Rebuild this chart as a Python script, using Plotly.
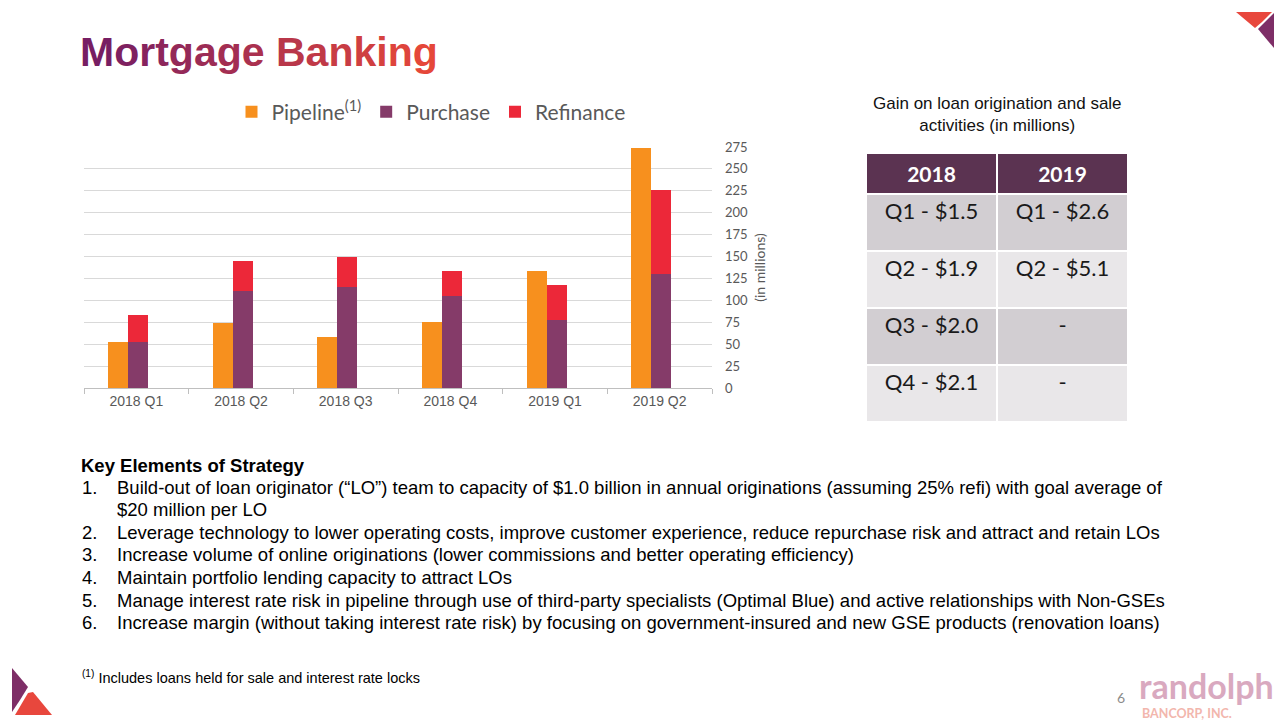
import plotly.graph_objects as go

# ---------------- data ----------------
quarters = ["2018 Q1", "2018 Q2", "2018 Q3", "2018 Q4", "2019 Q1", "2019 Q2"]
pipeline = [52, 74, 58, 75, 134, 274]
purchase = [52, 111, 115, 105, 78, 130]
refinance = [31, 34, 35, 28, 39, 96]
y_ticks = list(range(0, 276, 25))

table_header = ["2018", "2019"]
table_2018 = ["Q1 - $1.5", "Q2 - $1.9", "Q3 - $2.0", "Q4 - $2.1"]
table_2019 = ["Q1 - $2.6", "Q2 - $5.1", "-", "-"]

strategy_title = "Key Elements of Strategy"
strategy_items = [
    ["Build-out of loan originator (\u201cLO\u201d) team to capacity of $1.0 billion in annual originations (assuming 25% refi) with goal average of",
     "$20 million per LO"],
    ["Leverage technology to lower operating costs, improve customer experience, reduce repurchase risk and attract and retain LOs"],
    ["Increase volume of online originations (lower commissions and better operating efficiency)"],
    ["Maintain portfolio lending capacity to attract LOs"],
    ["Manage interest rate risk in pipeline through use of third-party specialists (Optimal Blue) and active relationships with Non-GSEs"],
    ["Increase margin (without taking interest rate risk) by focusing on government-insured and new GSE products (renovation loans)"],
]

W, H = 1280, 720
ORANGE = "#F7901E"
PURPLE = "#853B69"
RED = "#EC2839"
GRAY = "#595959"
CAL = "Lato, 'Open Sans', sans-serif"
ARIAL = "Arial, 'Liberation Sans', sans-serif"
BODY = 18.5


def px(x):
    return x / W


def py(y):
    return 1 - y / H


fig = go.Figure()

fig.add_trace(go.Bar(name="Pipeline<sup>(1)</sup>", x=quarters, y=pipeline,
                     marker=dict(color=ORANGE, line=dict(width=0)),
                     width=0.19, offset=-0.27))
fig.add_trace(go.Bar(name="Purchase", x=quarters, y=purchase,
                     marker=dict(color=PURPLE, line=dict(width=0)),
                     width=0.19, offset=-0.08))
fig.add_trace(go.Bar(name="Refinance", x=quarters, y=refinance, base=purchase,
                     marker=dict(color=RED, line=dict(width=0)),
                     width=0.19, offset=-0.08))

# table
fig.add_trace(go.Table(
    domain=dict(x=[px(866), px(1128)], y=[py(421), py(153)]),
    columnwidth=[1, 1],
    header=dict(values=[f"<b>{h}</b>" for h in table_header],
                fill_color="#5B3351", line=dict(color="white", width=2),
                font=dict(family=CAL, size=21, color="white"),
                align="center", height=36),
    cells=dict(values=[table_2018, table_2019],
               fill_color=[["#D2CED2", "#E9E7E9", "#D2CED2", "#E9E7E9"]] * 2,
               line=dict(color="white", width=2),
               font=dict(family=CAL, size=22, color="#1A1A1A"),
               align="center", height=57),
))

annotations = []

# gradient title
title = "Mortgage Banking"
c0 = (0x77, 0x1E, 0x63)
c1 = (0xE5, 0x47, 0x39)
spans = []
n = len(title)
for i, ch in enumerate(title):
    t = i / (n - 1)
    col = tuple(round(a + (b - a) * t) for a, b in zip(c0, c1))
    spans.append(f"<span style='color:rgb{col}'>{ch}</span>")
annotations.append(dict(text="<b>" + "".join(spans) + "</b>", x=px(78), y=py(52),
                        xref="paper", yref="paper", xanchor="left", yanchor="middle",
                        showarrow=False, font=dict(family=ARIAL, size=41)))

# right header
annotations.append(dict(text="Gain on loan origination and sale<br>activities (in millions)",
                        x=px(997), y=py(115), xref="paper", yref="paper",
                        xanchor="center", yanchor="middle", showarrow=False,
                        font=dict(family=ARIAL, size=17, color="#111111")))

# strategy
annotations.append(dict(text=f"<b>{strategy_title}</b>", x=px(79), y=py(465),
                        xref="paper", yref="paper", xanchor="left", yanchor="middle",
                        showarrow=False, font=dict(family=ARIAL, size=BODY, color="#000000")))
line_y = 487
for k, item in enumerate(strategy_items, start=1):
    for j, line in enumerate(item):
        if j == 0:
            annotations.append(dict(text=f"{k}.", x=px(80), y=py(line_y), xref="paper",
                                    yref="paper", xanchor="left", yanchor="middle",
                                    showarrow=False,
                                    font=dict(family=ARIAL, size=BODY, color="#000000")))
        annotations.append(dict(text=line, x=px(115), y=py(line_y), xref="paper",
                                yref="paper", xanchor="left", yanchor="middle",
                                showarrow=False,
                                font=dict(family=ARIAL, size=BODY, color="#000000")))
        line_y += 22.6

# footnote
annotations.append(dict(text="<sup>(1)</sup> Includes loans held for sale and interest rate locks",
                        x=px(80), y=py(677), xref="paper", yref="paper",
                        xanchor="left", yanchor="middle", showarrow=False,
                        font=dict(family=ARIAL, size=14.5, color="#000000")))

# page number and logo text
annotations.append(dict(text="6", x=px(1121), y=py(697), xref="paper", yref="paper",
                        xanchor="center", yanchor="middle", showarrow=False,
                        font=dict(family=CAL, size=14, color="#8C8C8C")))
annotations.append(dict(text="<b>randolph</b>", x=px(1137), y=py(685), xref="paper",
                        yref="paper", xanchor="left", yanchor="middle", showarrow=False,
                        font=dict(family=CAL, size=34, color="#D9A9BF")))
annotations.append(dict(text="<b>BANCORP, INC.</b>", x=px(1140), y=py(713), xref="paper",
                        yref="paper", xanchor="left", yanchor="middle", showarrow=False,
                        font=dict(family=CAL, size=12.5, color="#F2B6AD")))


def path(points):
    s = "M " + " L ".join(f"{px(x)},{py(y)}" for x, y in points) + " Z"
    return s


shapes = [
    dict(type="path", xref="paper", yref="paper", path=path([(1236, 12), (1272, 12), (1262, 22), (1255, 28)]),
         fillcolor="#E8473D", line=dict(width=0)),
    dict(type="path", xref="paper", yref="paper", path=path([(1274, 13), (1258, 29), (1274, 48)]),
         fillcolor="#7E2E67", line=dict(width=0)),
    dict(type="path", xref="paper", yref="paper", path=path([(12, 668), (28, 687), (20, 700), (12, 712)]),
         fillcolor="#7E2E67", line=dict(width=0)),
    dict(type="path", xref="paper", yref="paper", path=path([(15, 715), (28, 693), (33, 692), (52, 715)]),
         fillcolor="#E8473D", line=dict(width=0)),
]

fig.update_layout(
    width=W, height=H,
    margin=dict(l=0, r=0, t=0, b=0, pad=0, autoexpand=False),
    paper_bgcolor="white", plot_bgcolor="white",
    barmode="overlay",
    bargap=0,
    showlegend=True,
    legend=dict(orientation="h", x=px(431), y=py(112), xanchor="center", yanchor="middle",
                font=dict(family=CAL, size=21, color=GRAY), traceorder="normal",
                itemclick=False),
    xaxis=dict(domain=[px(84), px(712)], type="category", automargin=False,
               showline=True, linecolor="#BFBFBF", linewidth=1,
               ticks="outside", tickson="boundaries", ticklen=5, tickcolor="#BFBFBF",
               tickfont=dict(family=ARIAL, size=14, color=GRAY), showgrid=False),
    yaxis=dict(domain=[py(388), py(147)], range=[0, 275], tickvals=y_ticks,
               side="right", showgrid=True, gridcolor="#D9D9D9", gridwidth=1,
               zeroline=False, showline=False, ticks="", ticklabelstandoff=12,
               automargin=False,
               tickfont=dict(family=CAL, size=13, color=GRAY),
               title=dict(text="(in millions)", standoff=8,
                          font=dict(family=CAL, size=14, color=GRAY))),
    annotations=annotations,
    shapes=shapes,
)

fig.write_html("out.html", config={"displayModeBar": False},
               post_script="document.body.style.margin='0';document.body.style.overflow='hidden';")
